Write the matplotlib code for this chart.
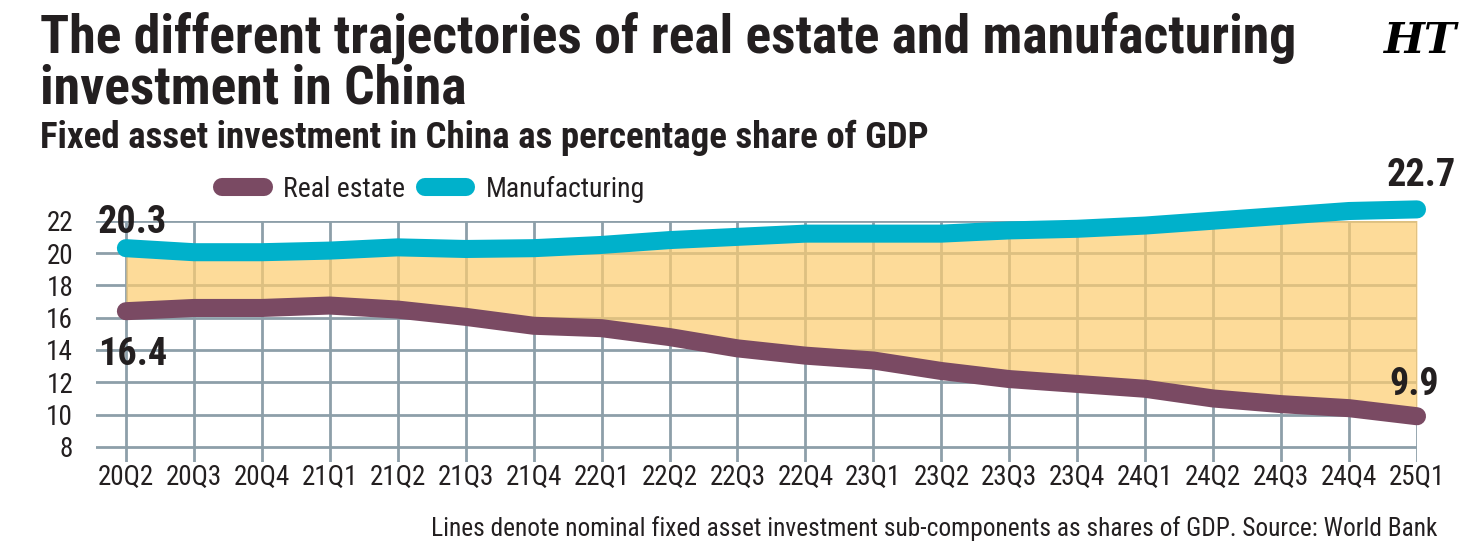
import matplotlib
matplotlib.use("Agg")
import matplotlib.pyplot as plt
from matplotlib import font_manager

# pick a condensed sans if one is installed, the original uses a narrow face
names = {f.name for f in font_manager.fontManager.ttflist}
FONT = "Roboto"
for cand in ["Liberation Sans Narrow", "DejaVu Sans Condensed", "Roboto Condensed", "Open Sans Condensed"]:
    if cand in names:
        FONT = cand
        break
plt.rcParams["font.family"] = [FONT, "DejaVu Sans"]

quarters = ["20Q2", "20Q3", "20Q4", "21Q1", "21Q2", "21Q3", "21Q4", "22Q1", "22Q2", "22Q3",
            "22Q4", "23Q1", "23Q2", "23Q3", "23Q4", "24Q1", "24Q2", "24Q3", "24Q4", "25Q1"]
real_estate = [16.4, 16.6, 16.6, 16.75, 16.5, 16.05, 15.5, 15.35, 14.8, 14.1,
               13.65, 13.35, 12.7, 12.2, 11.9, 11.6, 11.0, 10.65, 10.4, 9.9]
manufacturing = [20.3, 20.05, 20.05, 20.15, 20.35, 20.25, 20.3, 20.5, 20.8, 21.0,
                 21.2, 21.2, 21.2, 21.4, 21.5, 21.7, 22.0, 22.3, 22.6, 22.7]
yticks = [8, 10, 12, 14, 16, 18, 20, 22]

W, H = 1467, 556
TXT = "#231f20"
PURPLE = "#7a4a63"
CYAN = "#00b1cb"
GRID = "#8d9fa9"

fig = plt.figure(figsize=(W / 100, H / 100), dpi=100)
ax = fig.add_axes([96 / W, 1 - 462.3 / H, (1417 - 96) / W, (462.3 - 220.7) / H])

x = list(range(len(quarters)))
ax.fill_between(x, real_estate, manufacturing, color="#fdcd72", alpha=0.72, lw=0, zorder=1)
ax.plot(x, real_estate, color=PURPLE, lw=13, solid_capstyle="round", solid_joinstyle="round",
        clip_on=False, zorder=3, label="Real estate")
ax.plot(x, manufacturing, color=CYAN, lw=13, solid_capstyle="round", solid_joinstyle="round",
        clip_on=False, zorder=3, label="Manufacturing")

ax.set_xlim(-0.44, 19)
ax.set_ylim(7.05, 22)
ax.set_xticks(x)
ax.set_xticklabels(quarters)
ax.set_yticks(yticks)
ax.set_axisbelow(True)
ax.grid(True, color=GRID, lw=2)
for s in ax.spines.values():
    s.set_visible(False)
ax.tick_params(axis="x", length=0, pad=1, labelsize=19.5, labelcolor=TXT)
ax.tick_params(axis="y", length=0, pad=16.5, labelsize=19.5, labelcolor=TXT)

# end point values
bold = dict(fontsize=27.5, fontweight="bold", color=TXT, textcoords="offset points", va="baseline",
            annotation_clip=False)
ax.annotate(f"{manufacturing[0]}", (0, manufacturing[0]), xytext=(-20, 11), ha="left", **bold)
ax.annotate(f"{real_estate[0]}", (0, real_estate[0]), xytext=(-20, -38.5), ha="left", **bold)
ax.annotate(f"{manufacturing[-1]}", (19, manufacturing[-1]), xytext=(3, 16.8), ha="center", **bold)
ax.annotate(f"{real_estate[-1]}", (19, real_estate[-1]), xytext=(-2, 15.6), ha="center", **bold)

ax.legend(loc="center left", bbox_to_anchor=(222 / W, 1 - 189 / H), bbox_transform=fig.transFigure,
          ncol=2, frameon=False, fontsize=20, handlelength=1.5, handletextpad=0.7,
          columnspacing=0.7, borderpad=0, borderaxespad=0, labelcolor=TXT)


def fit_width(t, px):
    r = fig.canvas.get_renderer()
    w = t.get_window_extent(r).width
    t.set_fontsize(t.get_fontsize() * px / w)


t1 = fig.text(40 / W, 1 - 52 / H, "The different trajectories of real estate and manufacturing",
              fontsize=36, fontweight="bold", color=TXT, va="baseline")
fit_width(t1, 1258)
fig.text(40 / W, 1 - 104 / H, "investment in China", fontsize=t1.get_fontsize(),
         fontweight="bold", color=TXT, va="baseline")
sub = fig.text(40 / W, 1 - 148 / H, "Fixed asset investment in China as percentage share of GDP",
               fontsize=27, fontweight="bold", color=TXT, va="baseline")
fit_width(sub, 890)
src = fig.text(1437 / W, 1 - 536 / H,
               "Lines denote nominal fixed asset investment sub-components as shares of GDP. Source: World Bank",
               fontsize=20, color=TXT, ha="right", va="baseline")
fit_width(src, 1005)
logo = fig.text(1383 / W, 1 - 53 / H, "HT", fontsize=38, fontweight="bold", fontstyle="italic",
                family="DejaVu Serif", color="black", va="baseline")
fit_width(logo, 73)

fig.savefig("out.png", dpi=100)
